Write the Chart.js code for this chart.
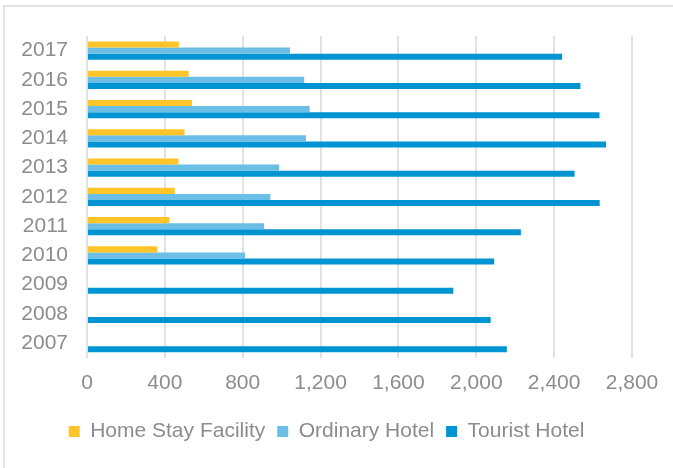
<!DOCTYPE html>
<html>
<head>
<meta charset="utf-8">
<script src="https://cdn.jsdelivr.net/npm/chart.js@4.4.1/dist/chart.umd.min.js"></script>
<style>
  html, body { margin: 0; padding: 0; background: #fff; overflow: hidden; }
  #frame { position: absolute; left: 3px; top: 5px; width: 700px; height: 500px; border: 2px solid #e3e3e3; box-sizing: border-box; }
  #wrap { position: absolute; left: 0; top: 0; width: 673px; height: 468px; }
</style>
</head>
<body>
<div id="frame"></div>
<div id="wrap"><canvas id="chart"></canvas></div>
<script>
// years bottom -> top
const years = ['2007', '2008', '2009', '2010', '2011', '2012', '2013', '2014', '2015', '2016', '2017'];
const homeStay = [null, null, null, 361, 423, 451, 470, 501, 540, 522, 472];
const ordinaryHotel = [null, null, null, 812, 910, 942, 987, 1125, 1144, 1116, 1043];
const touristHotel = [2157, 2074, 1882, 2092, 2229, 2634, 2505, 2667, 2633, 2535, 2441];

const gray = '#8c8c8c';
const font = { family: '"Liberation Sans", Arial, sans-serif', size: 21 };

new Chart(document.getElementById('chart'), {
  type: 'bar',
  data: {
    labels: years,
    datasets: [
      { label: 'Home Stay Facility', data: homeStay, backgroundColor: '#ffc427' },
      { label: 'Ordinary Hotel', data: ordinaryHotel, backgroundColor: '#6bbfe7' },
      { label: 'Tourist Hotel', data: touristHotel, backgroundColor: '#0095d2' }
    ]
  },
  options: {
    indexAxis: 'y',
    responsive: true,
    maintainAspectRatio: false,
    animation: false,
    datasets: { bar: { categoryPercentage: 0.62, barPercentage: 1, borderWidth: 0 } },
    layout: { padding: { left: 21, right: 41, top: 36, bottom: 16 } },
    plugins: {
      tooltip: { enabled: false },
      legend: {
        position: 'bottom',
        labels: { font, color: gray, boxWidth: 11, boxHeight: 11, padding: 12 }
      }
    },
    scales: {
      x: {
        min: 0,
        max: 2800,
        border: { display: false },
        grid: { color: '#e2e2e2', lineWidth: 2, drawTicks: false },
        ticks: { stepSize: 400, font, color: gray, padding: 13 }
      },
      y: {
        reverse: true,
        border: { display: false },
        grid: { display: false, drawTicks: false },
        ticks: { font, color: gray, padding: 19 },
        // label width + gap to the axis, as in the source
        afterFit: (scale) => { scale.width = 66; }
      }
    }
  }
});
</script>
</body>
</html>
